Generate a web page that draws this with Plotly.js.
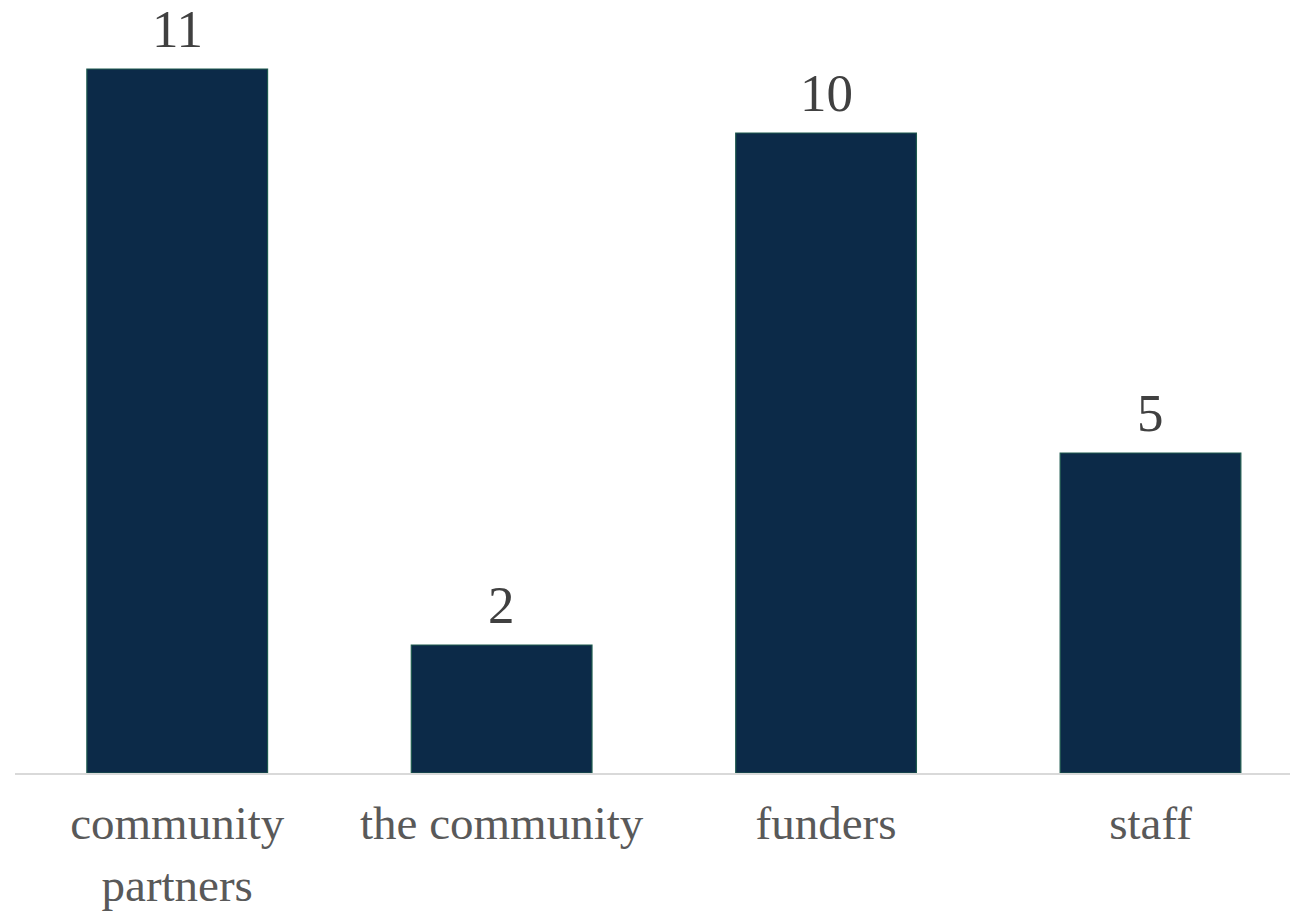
<!DOCTYPE html>
<html>
<head>
<meta charset="utf-8">
<script src="https://cdn.plot.ly/plotly-3.0.1.min.js"></script>
<style>html,body{margin:0;padding:0;background:#fff;}#chart{width:1291px;height:911px;}</style>
</head>
<body>
<div id="chart"></div>
<script>
const categories = ["community<br>partners", "the community", "funders", "staff"];
const values = [11, 2, 10, 5];

const trace = {
  type: "bar",
  x: [0, 1, 2, 3],
  y: values,
  width: 0.557,
  marker: { color: "#0C2A48", line: { color: "#1E5A4E", width: 1.2 } },
  hoverinfo: "none"
};

const annotations = values.map((v, i) => ({
  x: i, y: v, xref: "x", yref: "y",
  text: String(v), showarrow: false,
  yanchor: "bottom", yshift: 9,
  font: { family: "Liberation Serif, Times New Roman, serif", size: 53, color: "#404040" }
}));

const layout = {
  width: 1291, height: 911,
  margin: { l: 15, r: 1, t: 5, b: 138 },
  paper_bgcolor: "#ffffff", plot_bgcolor: "#ffffff",
  showlegend: false,
  xaxis: {
    range: [-0.5, 3.43],
    tickmode: "array", tickvals: [0, 1, 2, 3], ticktext: categories,
    showline: true, linecolor: "#D9D9D9", linewidth: 2,
    showgrid: false, zeroline: false, ticks: "",
    ticklabelstandoff: 8,
    tickfont: { family: "Liberation Serif, Times New Roman, serif", size: 47, color: "#595959" },
    fixedrange: true
  },
  yaxis: {
    range: [0, 12], visible: false, showgrid: false, zeroline: false, fixedrange: true
  },
  annotations: annotations
};

Plotly.newPlot("chart", [trace], layout, { displayModeBar: false, staticPlot: true });
</script>
</body>
</html>
